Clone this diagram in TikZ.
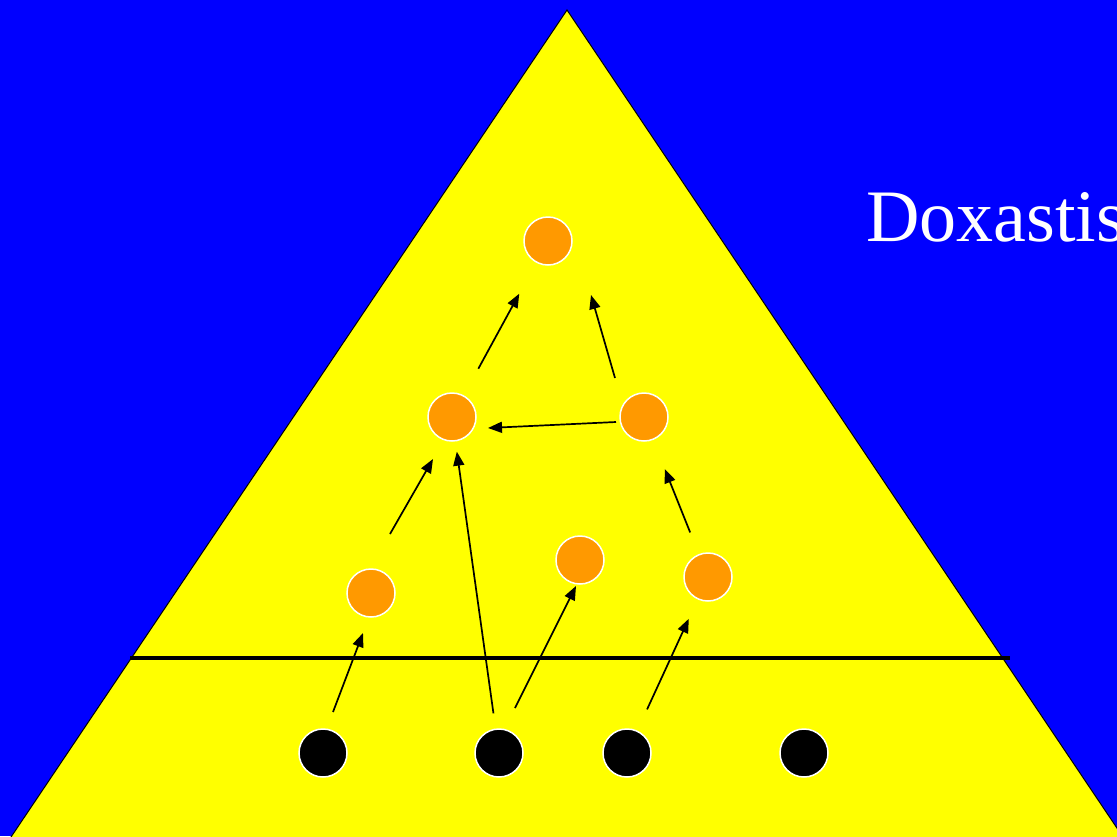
\documentclass[tikz,border=0pt]{standalone}
\usepackage{fontspec}
\setmainfont{Liberation Serif}
\usetikzlibrary{arrows.meta}
\definecolor{slideblue}{HTML}{0000FF}
\definecolor{slideyellow}{HTML}{FFFF00}
\definecolor{beliefor}{HTML}{FF9900}
\begin{document}
\begin{tikzpicture}[x=1pt,y=-1pt]
  \tikzstyle{belief} = [circle, fill=beliefor, draw=white, line width=1.5pt, minimum size=48pt, inner sep=0pt, outer sep=0pt]
  \tikzstyle{basis} = [circle, fill=black, draw=white, line width=1.5pt, minimum size=48pt, inner sep=0pt, outer sep=0pt]
  \tikzstyle{arrow} = [line width=1.7pt, -{Triangle[length=14pt,width=11pt]}]

  % Background and pyramid
  \useasboundingbox (0,0) rectangle (1117,836);
  \clip (0,0) rectangle (1117,836);
  \fill [slideblue] (0,0) rectangle (1117,836);
  \filldraw [fill=slideyellow, draw=black, line width=1pt] (567,10) -- (7,843) -- (1127,843) -- cycle;
  \draw [line width=4.8pt] (130,658) -- (1010,658);

  % Title
  \node [anchor=base west, inner sep=0pt, text=white, font=\fontsize{74}{80}\selectfont] (title) at (866,241) {Doxastis};

  % Top belief
  \node [belief] (top) at (548,241) {};

  % Middle beliefs
  \node [belief] (m1) at (452,417) {};
  \node [belief] (m2) at (644,417) {};

  % Lower beliefs
  \node [belief] (o1) at (371,593) {};
  \node [belief] (o2) at (580,560) {};
  \node [belief] (o3) at (708,577) {};

  % Basic beliefs
  \node [basis] (b1) at (323,753) {};
  \node [basis] (b2) at (499,753) {};
  \node [basis] (b3) at (627,753) {};
  \node [basis] (b4) at (804,753) {};

  % Arrows from the base
  \draw [arrow] ([shift={(10,-41)}]b1.center) -- ([shift={(-8,40)}]o1.center);
  \draw [arrow, shorten <=16pt, shorten >=11pt] (b2) -- (m1);
  \draw [arrow] ([shift={(16,-45)}]b2.center) -- ([shift={(-4,26)}]o2.center);
  \draw [arrow, shorten <=24pt, shorten >=22pt] (b3) -- (o3);

  % Arrows between beliefs
  \draw [arrow] ([shift={(19,-59)}]o1.center) -- ([shift={(-19,42)}]m1.center);
  \draw [arrow, shorten <=24pt, shorten >=32pt] (o3) -- (m2);
  \draw [arrow] ([shift={(-28,5)}]m2.center) -- ([shift={(36,11)}]m1.center);
  \draw [arrow, shorten <=31pt, shorten >=36pt] (m1) -- (top);
  \draw [arrow] ([shift={(-29,-39)}]m2.center) -- ([shift={(43,54)}]top.center);
\end{tikzpicture}
\end{document}
